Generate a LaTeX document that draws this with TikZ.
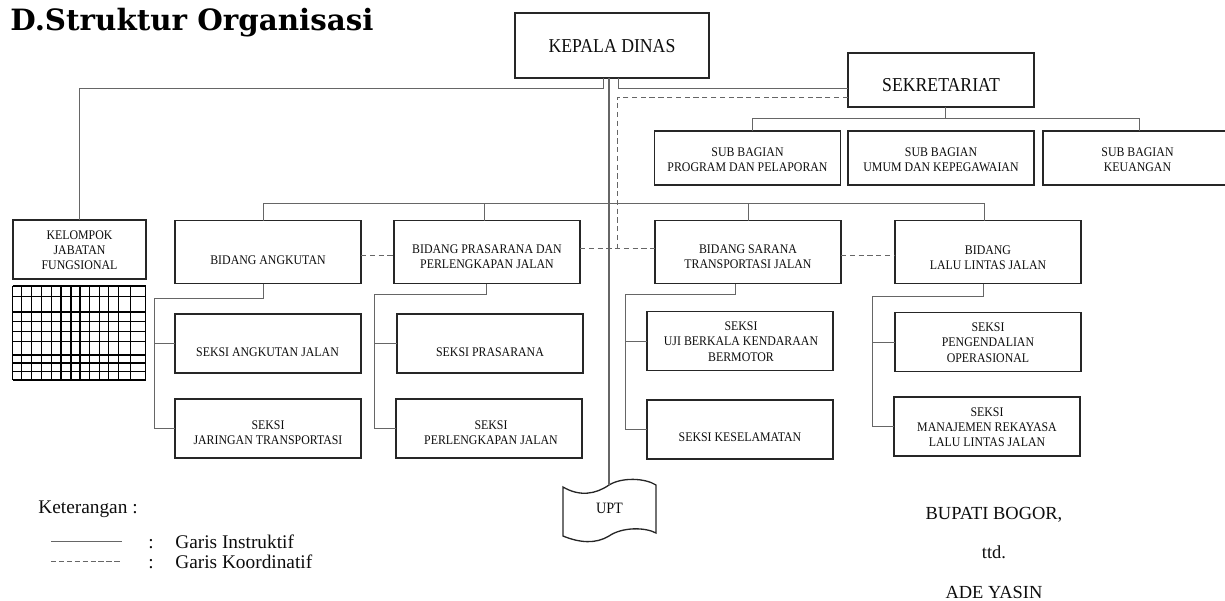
\documentclass[tikz,border=0pt]{standalone}
\usepackage{fontspec}
\setmainfont{Liberation Serif}
\newfontfamily\boxfamily[FakeStretch=0.9]{Liberation Serif}
\newfontfamily\titlefamily{DejaVu Serif}
\newcommand{\boxfont}{\boxfamily\fontsize{7.5}{8.7}\selectfont}
\newcommand{\bigfont}{\boxfamily\fontsize{11.2}{13}\selectfont}
\definecolor{boxcol}{gray}{0.15}
\definecolor{linecol}{gray}{0.4}
\definecolor{txtcol}{gray}{0.05}
\tikzset{
    unit/.style={draw=boxcol, line width=0.75pt, fill=white, inner sep=0pt, outer sep=0pt},
    seksi/.style={unit, minimum width=3.72cm, minimum height=1.18cm},
    bidang/.style={unit, minimum width=3.72cm, minimum height=1.26cm},
    subbag/.style={unit, minimum width=3.72cm, minimum height=1.08cm},
    boxtxt/.style={font=\boxfont, align=center, text=txtcol, inner sep=0pt},
    conn/.style={draw=linecol, line width=0.55pt},
    koord/.style={conn, dash pattern=on 3pt off 2pt},
    gridline/.style={draw=black, line width=0.6pt},
    plain/.style={text=txtcol, inner sep=0pt, anchor=base west, font=\fontsize{11}{13}\selectfont}
}
\begin{document}
\begin{tikzpicture}[x=0.02cm, y=-0.02cm]
    \useasboundingbox (0,0) rectangle (1225,600);

    \node[anchor=base west, inner sep=0pt, font=\titlefamily\bfseries\fontsize{16.7}{19}\selectfont] (judul) at (10,30) {D.Struktur Organisasi};

    % kepala dan sekretariat
    \node[unit, minimum width=3.88cm, minimum height=1.3cm] (kepala) at (612,45.5) {};
    \node[boxtxt, font=\bigfont] (kepala-t) at (612,46) {KEPALA DINAS};
    \node[subbag] (sekret) at (941,80) {};
    \node[boxtxt, font=\bigfont] (sekret-t) at (941,85) {SEKRETARIAT};

    \node[subbag] (subprog) at (747.5,158) {};
    \node[boxtxt] (subprog-t) at (747.5,159.5) {SUB BAGIAN\\PROGRAM DAN PELAPORAN};
    \node[subbag] (subumum) at (941,158) {};
    \node[boxtxt] (subumum-t) at (941,159.5) {SUB BAGIAN\\UMUM DAN KEPEGAWAIAN};
    \node[subbag] (subkeu) at (1136,158) {};
    \node[boxtxt] (subkeu-t) at (1137.5,159.5) {SUB BAGIAN\\KEUANGAN};

    % kelompok jabatan fungsional
    \node[unit, minimum width=2.66cm, minimum height=1.18cm] (kelompok) at (79.5,249.5) {};
    \node[boxtxt] (kelompok-t) at (79.5,250) {KELOMPOK\\JABATAN\\FUNGSIONAL};
    \foreach \gx in {12.7, 21.7, 31.7, 41.7, 51.7, 61, 71, 80, 89.3, 99.3, 108.3, 118.3, 130.7, 145.7} {
        \draw[gridline] (\gx,286) -- (\gx,380);
    }
    \foreach \gy in {286, 296.7, 312, 321.7, 331.7, 341.7, 355, 363, 371.7, 380} {
        \draw[gridline] (12.7,\gy) -- (145.7,\gy);
    }

    % bidang
    \node[bidang] (angkutan) at (268,252) {};
    \node[boxtxt] (angkutan-t) at (268,260) {BIDANG ANGKUTAN};
    \node[bidang] (prasarana) at (487,252) {};
    \node[boxtxt] (prasarana-t) at (487,256.5) {BIDANG PRASARANA DAN\\PERLENGKAPAN JALAN};
    \node[bidang] (sarana) at (748,252) {};
    \node[boxtxt] (sarana-t) at (748,256.5) {BIDANG SARANA\\TRANSPORTASI JALAN};
    \node[bidang] (lalu) at (988,252) {};
    \node[boxtxt] (lalu-t) at (988,257.5) {BIDANG\\LALU LINTAS JALAN};

    % seksi
    \node[seksi] (s-angk) at (268,343.5) {};
    \node[boxtxt] (s-angk-t) at (267.5,352) {SEKSI ANGKUTAN JALAN};
    \node[seksi] (jaringan) at (268,428.5) {};
    \node[boxtxt] (jaringan-t) at (268,432.5) {SEKSI\\JARINGAN TRANSPORTASI};
    \node[seksi] (s-pras) at (490,343.5) {};
    \node[boxtxt] (s-pras-t) at (490,352) {SEKSI PRASARANA};
    \node[seksi] (perlengkapan) at (489,428.5) {};
    \node[boxtxt] (perlengkapan-t) at (491,432.5) {SEKSI\\PERLENGKAPAN JALAN};
    \node[seksi] (uji) at (740,341) {};
    \node[boxtxt] (uji-t) at (741,341.5) {SEKSI\\UJI BERKALA KENDARAAN\\BERMOTOR};
    \node[seksi] (keselamatan) at (740,429.5) {};
    \node[boxtxt] (keselamatan-t) at (740,437) {SEKSI KESELAMATAN};
    \node[seksi] (pengendalian) at (988,342) {};
    \node[boxtxt] (pengendalian-t) at (988,342.5) {SEKSI\\PENGENDALIAN\\OPERASIONAL};
    \node[seksi] (manajemen) at (987,426.5) {};
    \node[boxtxt] (manajemen-t) at (987,427) {SEKSI\\MANAJEMEN REKAYASA\\LALU LINTAS JALAN};

    % UPT
    \coordinate (upt-top) at (609,485);
    \draw[draw=boxcol, line width=0.75pt] (563,487) .. controls (580,497) and (596,494) .. (upt-top)
        .. controls (622,477) and (645,478) .. (656,485) -- (656,533)
        .. controls (645,527) and (622,527) .. (609,536)
        .. controls (596,544) and (580,543) .. (563,536) -- cycle;
    \node[boxtxt, font=\boxfamily\fontsize{9}{11}\selectfont] (upt) at (609.5,508.5) {UPT};

    % garis instruktif
    \draw[conn] ([xshift=-0.18cm]kepala.south) -- ++(0,10) -| (kelompok.north);
    \draw[conn] ([xshift=0.12cm]kepala.south) |- ([yshift=-0.16cm]sekret.west);
    \draw[conn, line width=0.9pt] ([xshift=-0.06cm]kepala.south) -- (upt-top);
    \draw[conn] ([xshift=0.09cm]subprog.north) -- ++(0,-13) -| ([xshift=0.06cm]subkeu.north);
    \draw[conn] ([xshift=0.08cm]sekret.south) -- ++(0,11);
    \draw[conn] ([xshift=-0.1cm]angkutan.north) -- ++(0,-17) -| ([xshift=-0.08cm]lalu.north);
    \draw[conn] ([xshift=-0.06cm]prasarana.north) -- ++(0,-17);
    \draw[conn] (sarana.north) -- ++(0,-17);

    \draw[conn] ([xshift=-0.1cm]angkutan.south) -- ++(0,14.5) -| ([xshift=-0.42cm]jaringan.west) -- (jaringan.west);
    \draw[conn] (s-angk.west) -- ++(-21,0);
    \draw[conn] ([xshift=-0.02cm]prasarana.south) -- ++(0,11) -| ([xshift=-0.44cm]perlengkapan.west) -- (perlengkapan.west);
    \draw[conn] (s-pras.west) -- ++(-23,0);
    \draw[conn] ([xshift=-0.26cm]sarana.south) -- ++(0,11) -| ([xshift=-0.44cm]keselamatan.west) -- (keselamatan.west);
    \draw[conn] (uji.west) -- ++(-22,0);
    \draw[conn] ([xshift=-0.1cm]lalu.south) -- ++(0,12.5) -| ([xshift=-0.44cm]manajemen.west) -- (manajemen.west);
    \draw[conn] (pengendalian.west) -- ++(-23,0);

    % garis koordinatif
    \coordinate (koord-turn) at (617,248);
    \draw[koord] ([yshift=-0.34cm]sekret.west) -| (koord-turn);
    \draw[koord] ([yshift=-0.06cm]angkutan.east) -- ([yshift=-0.06cm]prasarana.west);
    \draw[koord] ([yshift=0.08cm]prasarana.east) -- ([yshift=0.08cm]sarana.west);
    \draw[koord] ([yshift=-0.06cm]sarana.east) -- ([yshift=-0.06cm]lalu.west);

    % keterangan
    \node[plain] (keterangan) at (38,513) {Keterangan :};
    \draw[conn] (51,541.5) -- (122,541.5);
    \draw[conn, dash pattern=on 3pt off 1.5pt] (51,561) -- (122,561);
    \node[plain] (titik-ins) at (148,548) {:};
    \node[plain] (titik-koord) at (148,568) {:};
    \node[plain] (ket-ins) at (175,548) {Garis Instruktif};
    \node[plain] (ket-koord) at (175,568) {Garis Koordinatif};

    % tanda tangan
    \node[plain, anchor=base, font=\fontsize{10.5}{12}\selectfont] (bupati) at (994,519) {BUPATI BOGOR,};
    \node[plain, anchor=base, font=\fontsize{10.5}{12}\selectfont] (ttd) at (994,558) {ttd.};
    \node[plain, anchor=base, font=\fontsize{10.5}{12}\selectfont] (nama) at (994,598.5) {ADE YASIN};

\end{tikzpicture}
\end{document}
